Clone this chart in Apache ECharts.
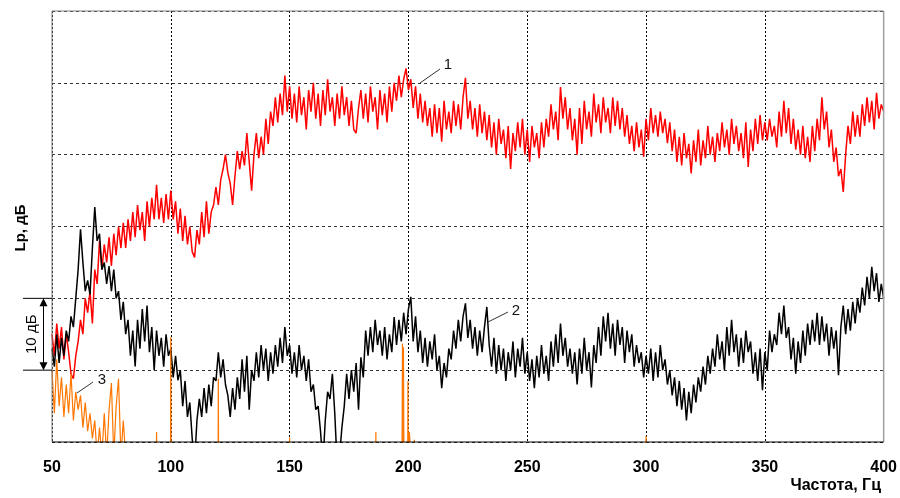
<!DOCTYPE html>
<html>
<head>
<meta charset="utf-8">
<script src="https://cdn.jsdelivr.net/npm/echarts@6/dist/echarts.min.js"></script>
<style>
html,body{margin:0;padding:0;background:#fff;}
#chart{width:900px;height:498px;}
</style>
</head>
<body>
<div id="chart"></div>
<script>
// Frequency grid, Hz (1 Hz step, 50..400)
const freqs = Array.from({length: 351}, (_, i) => 50 + i);
const xTicks = [50, 100, 150, 200, 250, 300, 350, 400];

// Curve 1 (red), dB above bottom of the chart
const curve1 = [
15,12,16.5,13,16,11.5,15,12.5,9.5,8.8,
12,14,17,15,20,18,21,16.5,24,22,
28,24,27.5,25,28.5,24.5,29,26,30,27,
30.5,27,31,28,32,28.5,33,29.5,32,28,
33.5,30,34,31,35.8,31,34,30.5,34.5,31,
35,31,33.5,29,32.5,28,31.5,27.5,30,26.5,
25.7,29.5,27.5,32,28.5,33.5,29,32,33,35.5,
33,36.5,38,40,37.5,36,33,37,40.5,38,
40.5,38.5,43,39,35,40,43,39.5,42.5,40,
45,41.5,46,44,48,44.5,48.5,45.5,51,46,
49.5,45,48.5,44.5,49.5,45.5,48,43.5,49,46,
50,45,48.5,44,49,45.5,50.5,46,48,44,
48.5,45,49.5,45.5,48,44,47.5,43.5,43,46.5,
49,45,48.5,44.5,49.5,46,48,43.5,49,45.5,
48.5,44.5,49.5,46,50,47.5,51,48,50.5,52,
49,50.5,46.5,49.5,45,48.5,44.5,47.5,44,46.5,
42.5,47,43,46.5,41.8,47.5,43.5,46,43,47.5,
44,47,43.5,48,50.7,45,47.5,43.5,46.5,42.5,
47,43,46,42,45.5,41,44.5,40,45,41.5,
43.5,39.5,44,38,43,40.5,44.5,41,45,40,
43.5,39,44,41,43,39.5,44.5,41,45,42.5,
47,43.5,46,42,49.4,45,48,43.5,46.5,42,
45,40,46.5,41.5,47.5,43.5,46,42.5,48.5,44.5,
47,43,48,44.5,46.5,43,48,44,47.5,43.5,
46.5,42.5,45.5,41.5,44,40.5,44.5,41,43.5,39.7,
45,42,46.5,43,45.5,42.5,46,43,45,41.6,
44.5,40.5,43.5,39,42.5,38.5,43,39.5,41.5,37.4,
42,39,43.5,38.5,42,39.5,44,40,42.5,39,
43,40.5,44.5,41,43.5,40,45,41.5,44,40.5,
43,39.5,44.5,38.3,43.5,40.5,45,41.5,45.5,42,
44.5,42,45,42.5,44,41,46,42.5,47.5,43,
46.5,41.5,45,40.7,43.5,40,44,39.5,42.5,39,
44,40.5,45,42,48,43.5,46,41,43.5,39,
41,37,38,34.8,40,44,41.5,46,42.5,45.5,
42.5,47,44,48,44.5,47.5,43.5,48.6,45,47,
46
];

// Curve 2 (black)
const curve2 = [
13,10.5,15,11,14.5,12,15.5,14,17.5,16,
20,24,29.6,25,21,22.5,20.5,27,32.7,28,
29,24,25,22,24.5,21,24,20,21,17,
19.5,15,17,12,15.5,10.5,17,13,18.5,14,
19,12.5,16,10,15.5,12,14.5,10.5,15,12,
13,9,12,8.6,10,5,8.5,3.5,5.5,0.5,
-3,3,6,3.5,7.5,4,8,5,9,8.5,
12.5,9,11.5,8,6.5,3.5,7.5,4.5,9,6,
11.5,7,12,4.5,10,8.5,12.5,9,13.5,10,
13,8.5,12.5,9.5,13.5,10.5,14.5,11,16,12,
13.5,9.5,12.5,9,13.5,10,12,8.5,11.5,7,
8,4.5,5,1.5,-3,3,7,6,9.5,4,
-3,-2,2,5,9.5,6,10,7,11,4.5,
11.8,9,15.5,12,16,12.5,17,13.5,15.5,12,
16,11.5,15,12.5,17.4,13.5,17,14,18,15,
18.5,20.2,14,17.5,12.5,15.5,11,14.5,10.5,14,
11.5,15,10,12,7.5,11,9,13,11.5,15.5,
13,17,14,17.5,19.3,14.5,17,13,16,12,
15.5,12.5,16,18.8,13.5,10.5,14.5,9.5,13.5,10,
13,8.5,12.5,10,14,9,13,10.5,14.5,9.5,
12.5,8.5,11.5,7.5,12,9,13.5,9.5,12,8.5,
14,10.5,15,11,16.5,12,14.5,10.5,13,9.5,
12.5,8,13,9.5,14.5,10,12.5,7.6,13.5,11,
16,12,17.5,14,18,13,16.5,12,17,13.5,
16,11,15.5,12.5,15,10.5,13.5,11,12.5,9,
12,9.5,13,8.5,12.5,9,13.5,10,11.5,8,
10,6.5,9,5,8.5,4.5,7.5,3,7,4,
8,5.5,9,7,10.5,8,12,9.5,13,10.5,
15,11.5,14,10,16,12,17,12.5,15,10.5,
14.5,11,15.5,12.5,14,9.5,12.5,8.5,13,7.2,
12.5,10,15.5,12.5,15,13.5,18,15,19,14.5,
16,11.5,14.5,9.5,14,11,15.5,12,16.5,13.5,
17,14,18,13.5,17.5,14,16.5,12,16,13,
15.5,9.3,16,19,15,18.5,15.5,19.5,16.5,20,
18,21.5,19,23,20,24.4,21,23.5,19.5,22,
20
];

// Curve 3 (orange): frequency / level pairs
const curve3Freq = [
50,51,52,53,54,55,56,57,58,59,
60,61,62,63,64,65,66,67,68,69,
70,71,72,73,74,75,76,77,78,79,80,81,
93.9,94,94.1, 99.9,100,100.1, 119.9,120,120.1, 149.9,150,150.1,
186.2,186.3,186.4, 197.3,197.5,197.7,197.9,198.1,
199.7,199.8,199.9, 200.3,200.4,200.6,200.8, 202.4,202.5,202.6,
299.9,300,300.1, 400
];
const curve3 = [
10,4,11.5,5,9,3.5,8,4,9.5,3,
7,4.5,6.5,2,5.5,1.5,4,0.5,3,-2,
2,-2,4,-2,4.4,8.2,-2,5,8.8,-2,3,-2,
-2,1.4,-2, -2,14.6,-2, -2,8.8,-2, -2,0.6,-2,
-2,1.4,-2, -2,13.7,-2,13.2,-2,
-2,8.5,-2, -2,1.4,0.5,-2, -2,0.3,-2,
-2,0.8,-2, -2
];

const FONT = '"Liberation Sans", Arial, sans-serif';
const chart = echarts.init(document.getElementById('chart'), null, {renderer: 'canvas'});

const option = {
  animation: false,
  backgroundColor: '#fff',
  grid: {left: 52, right: 16, top: 11, bottom: 56, containLabel: false},
  xAxis: {
    type: 'value', min: 50, max: 400, interval: 50,
    axisLine: {show: false},
    axisTick: {show: false},
    axisLabel: {
      fontFamily: FONT, fontWeight: 'bold', fontSize: 16, color: '#000', margin: 18,
      customValues: xTicks
    },
    splitLine: {show: true, lineStyle: {color: '#000', width: 1, type: [2, 2]}}
  },
  yAxis: {
    type: 'value', min: 0, max: 60, interval: 10,
    axisLine: {show: false},
    axisTick: {show: false},
    axisLabel: {show: false},
    splitLine: {show: true, lineStyle: {color: '#333', width: 1, type: [3, 3]}}
  },
  series: [
    {
      name: '1', type: 'line', showSymbol: false, symbol: 'none', clip: true,
      data: freqs.map((f, i) => [f, curve1[i]]),
      lineStyle: {color: '#ff0000', width: 1.5}, z: 3
    },
    {
      name: '2', type: 'line', showSymbol: false, symbol: 'none', clip: true,
      data: freqs.map((f, i) => [f, curve2[i]]),
      lineStyle: {color: '#000000', width: 1.5}, z: 4
    },
    {
      name: '3', type: 'line', showSymbol: false, symbol: 'none', clip: true,
      data: curve3Freq.map((f, i) => [f, curve3[i]]),
      lineStyle: {color: '#ff7700', width: 1.2}, z: 5
    }
  ]
};
chart.setOption(option);

const P = (x, y) => chart.convertToPixel({gridIndex: 0}, [x, y]);
const tl = P(50, 60), br = P(400, 0);
const y20 = P(50, 20)[1], y10 = P(50, 10)[1];
const ax = 43.5;

const graphics = [
  // frame
  {type: 'line', z: 10, shape: {x1: tl[0], y1: tl[1], x2: br[0], y2: tl[1]}, style: {stroke: '#808080', lineWidth: 1}},
  {type: 'line', z: 10, shape: {x1: tl[0], y1: tl[1], x2: tl[0], y2: br[1]}, style: {stroke: '#808080', lineWidth: 1}},
  {type: 'line', z: 10, shape: {x1: br[0], y1: tl[1], x2: br[0], y2: br[1]}, style: {stroke: '#a0a0a0', lineWidth: 1.5}},
  {type: 'line', z: 10, shape: {x1: tl[0] , y1: br[1], x2: br[0], y2: br[1]}, style: {stroke: '#000', lineWidth: 1}},
  // 10 dB scale marker
  {type: 'line', z: 10, shape: {x1: 23, y1: y20, x2: tl[0], y2: y20}, style: {stroke: '#000', lineWidth: 1}},
  {type: 'line', z: 10, shape: {x1: 23, y1: y10, x2: tl[0], y2: y10}, style: {stroke: '#000', lineWidth: 1}},
  {type: 'line', z: 10, shape: {x1: ax, y1: y20 + 2, x2: ax, y2: y10 - 2}, style: {stroke: '#000', lineWidth: 1}},
  {type: 'polygon', z: 10, shape: {points: [[ax, y20], [ax - 4, y20 + 8], [ax + 4, y20 + 8]]}, style: {fill: '#000'}},
  {type: 'polygon', z: 10, shape: {points: [[ax, y10], [ax - 4, y10 - 8], [ax + 4, y10 - 8]]}, style: {fill: '#000'}},
  {type: 'text', z: 10, x: 32, y: (y20 + y10) / 2, rotation: Math.PI / 2,
    style: {text: '10 дБ', font: '15px ' + FONT, fill: '#000', align: 'center', verticalAlign: 'middle'}},
  // axis titles
  {type: 'text', z: 10, x: 21, y: 228, rotation: Math.PI / 2,
    style: {text: 'Lp, дБ', font: 'bold 15px ' + FONT, fill: '#000', align: 'center', verticalAlign: 'middle'}},
  {type: 'text', z: 10, x: 881, y: 486,
    style: {text: 'Частота, Гц', font: 'bold 16px ' + FONT, fill: '#000', align: 'right', verticalAlign: 'middle'}},
  // curve labels
  {type: 'line', z: 10, shape: {x1: 420, y1: 83, x2: 440, y2: 69}, style: {stroke: '#333', lineWidth: 1}},
  {type: 'text', z: 10, x: 448, y: 65, style: {text: '1', font: '15px ' + FONT, fill: '#111', align: 'center', verticalAlign: 'middle'}},
  {type: 'line', z: 10, shape: {x1: 488, y1: 322, x2: 508, y2: 312}, style: {stroke: '#333', lineWidth: 1}},
  {type: 'text', z: 10, x: 516, y: 311, style: {text: '2', font: '15px ' + FONT, fill: '#111', align: 'center', verticalAlign: 'middle'}},
  {type: 'line', z: 10, shape: {x1: 77, y1: 393, x2: 93, y2: 382}, style: {stroke: '#333', lineWidth: 1}},
  {type: 'text', z: 10, x: 102, y: 380, style: {text: '3', font: '15px ' + FONT, fill: '#111', align: 'center', verticalAlign: 'middle'}}
];
chart.setOption({graphic: graphics});
</script>
</body>
</html>
